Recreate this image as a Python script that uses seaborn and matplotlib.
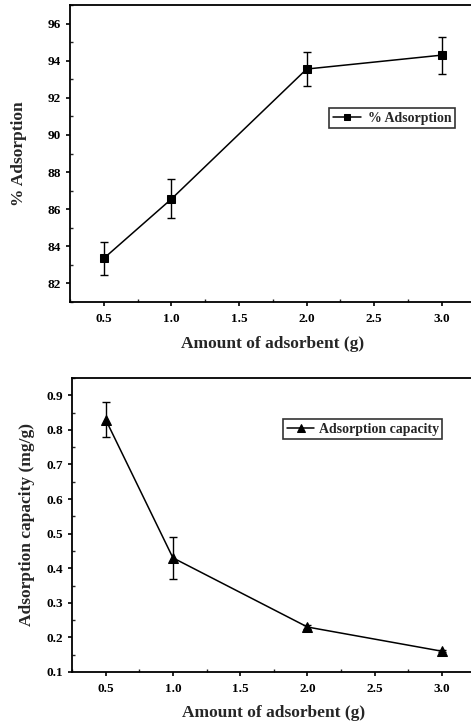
import matplotlib
matplotlib.use("Agg")
import matplotlib.pyplot as plt
import seaborn as sns
import pandas as pd
from matplotlib.ticker import MultipleLocator

# Data
amount = [0.5, 1.0, 2.0, 3.0]
pct_adsorption = [83.35, 86.55, 93.55, 94.3]
pct_err = [0.9, 1.05, 0.9, 1.0]
capacity = [0.83, 0.43, 0.23, 0.16]
capacity_err = [0.05, 0.06, 0.006, 0.003]
xtick_labels = ['0.5', '1.0', '1.5', '2.0', '2.5', '3.0']
xtick_vals = [0.5, 1.0, 1.5, 2.0, 2.5, 3.0]
cap_tick_vals = [0.1, 0.2, 0.3, 0.4, 0.5, 0.6, 0.7, 0.8, 0.9]
cap_tick_labels = ['0.1', '0.2', '0.3', '0.4', '0.5', '0.6', '0.7', '0.8', '0.9']

sns.set_theme(style="ticks")
plt.rcParams['font.family'] = ['Liberation Serif', 'DejaVu Serif']
plt.rcParams['font.weight'] = 'bold'

fig = plt.figure(figsize=(4.71, 7.26), dpi=100)
ax1 = fig.add_axes([70/471, 1-302/726, 1-70/471+0.01, (302-5)/726])
ax2 = fig.add_axes([72/471, 1-672/726, 1-72/471+0.01, (672-378)/726])

df1 = pd.DataFrame({"x": amount, "y": pct_adsorption})
df2 = pd.DataFrame({"x": amount, "y": capacity})

def style(ax):
    for s in ax.spines.values():
        s.set_linewidth(1.3)
        s.set_color('black')
    ax.tick_params(axis='both', which='major', direction='out', length=3, width=1.2,
                   labelsize=9.5, colors='black')
    ax.tick_params(axis='x', which='major', pad=5)
    ax.tick_params(axis='both', which='minor', direction='in', length=2.5, width=1.0)
    for lab in ax.get_xticklabels() + ax.get_yticklabels():
        lab.set_fontweight('bold')

# Top panel
sns.lineplot(data=df1, x="x", y="y", ax=ax1, color='black', marker='s', markersize=6,
             linewidth=1.1, label='% Adsorption', markeredgecolor='black')
ax1.errorbar(amount, pct_adsorption, yerr=pct_err, fmt='none', ecolor='black',
             elinewidth=1.0, capsize=3, capthick=1.0)
ax1.set_xlim(0.25, 3.25)
ax1.set_ylim(81, 97)
ax1.xaxis.set_minor_locator(MultipleLocator(0.25))
ax1.yaxis.set_major_locator(MultipleLocator(2))
ax1.yaxis.set_minor_locator(MultipleLocator(1))
ax1.set_xticks(xtick_vals)
ax1.set_xticklabels(xtick_labels)
ax1.set_xlabel('Amount of adsorbent (g)', fontsize=12.5, fontweight='bold', labelpad=8)
ax1.set_ylabel('% Adsorption', fontsize=12.5, fontweight='bold', labelpad=15)
style(ax1)
leg1 = ax1.legend(loc='upper right', bbox_to_anchor=(0.948, 0.652), fontsize=10,
                  frameon=True, fancybox=False, edgecolor='black', handlelength=2.0,
                  handletextpad=0.5, borderpad=0.25, borderaxespad=0, markerscale=0.8)
leg1.get_frame().set_linewidth(1.2)
for t in leg1.get_texts():
    t.set_fontweight('bold')

# Bottom panel
sns.lineplot(data=df2, x="x", y="y", ax=ax2, color='black', marker='^', markersize=7,
             linewidth=1.1, label='Adsorption capacity', markeredgecolor='black')
ax2.errorbar(amount, capacity, yerr=capacity_err, fmt='none', ecolor='black',
             elinewidth=1.0, capsize=3, capthick=1.0)
ax2.set_xlim(0.25, 3.25)
ax2.set_ylim(0.1, 0.95)
ax2.xaxis.set_minor_locator(MultipleLocator(0.25))
ax2.yaxis.set_minor_locator(MultipleLocator(0.05))
ax2.set_xticks(xtick_vals)
ax2.set_xticklabels(xtick_labels)
ax2.set_yticks(cap_tick_vals)
ax2.set_yticklabels(cap_tick_labels)
ax2.set_xlabel('Amount of adsorbent (g)', fontsize=12.5, fontweight='bold', labelpad=7)
ax2.set_ylabel('Adsorption capacity (mg/g)', fontsize=12.5, fontweight='bold', labelpad=8)
style(ax2)
leg2 = ax2.legend(loc='upper right', bbox_to_anchor=(0.917, 0.86), fontsize=10,
                  frameon=True, fancybox=False, edgecolor='black', handlelength=2.0,
                  handletextpad=0.3, borderpad=0.25, borderaxespad=0, markerscale=0.8)
leg2.get_frame().set_linewidth(1.2)
for t in leg2.get_texts():
    t.set_fontweight('bold')

fig.savefig('out.png', dpi=100)
